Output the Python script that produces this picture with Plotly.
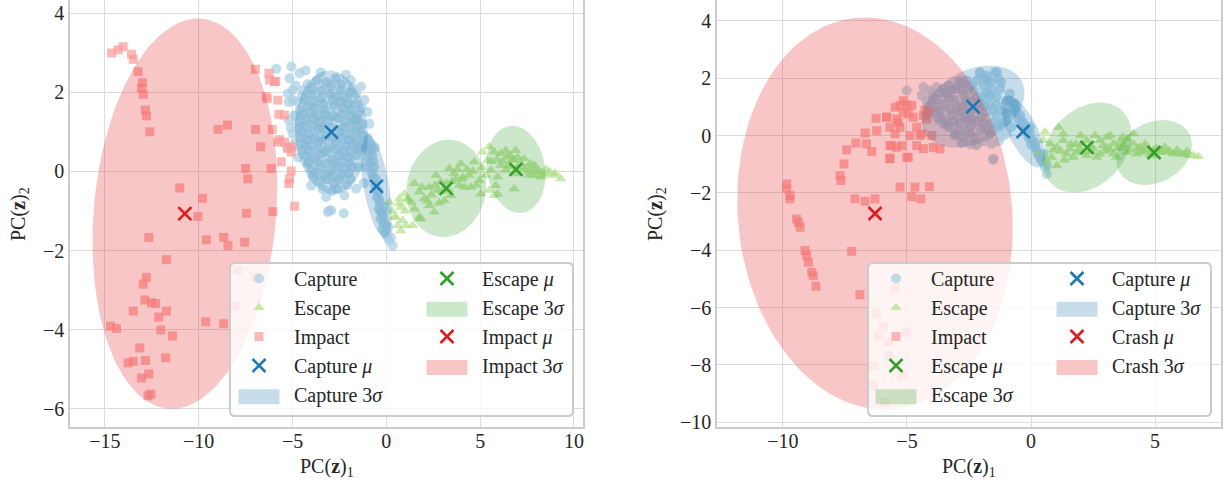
import numpy as np
import plotly.graph_objects as go

# ---------------- data: left panel ----------------
left_capture_pts = [
    (-5.07, 2.65), (-4.63, 2.48), (-5.16, 2.35), (-4.84, 2.16), (-5.25, 1.97), (-4.98, 1.80), (-4.89, 1.42),
    (-5.87, 2.59), (-4.30, 2.55), (-3.50, 2.50), (-2.15, 2.44), (-1.90, 2.30), (-1.35, 2.14), (-1.17, 1.80),
    (-1.00, 1.50), (-0.90, 1.20), (-5.10, 1.10), (-4.90, 0.70), (-4.70, 0.35), (-4.18, 0.20), (-3.92, -0.14),
    (-4.01, -0.36), (-3.21, -0.65), (-3.03, -0.99), (-3.12, -1.03), (-2.94, -0.99), (-2.27, -1.06), (-2.23, -0.61),
    (-1.61, -0.44), (-1.90, -0.20), (-1.50, 0.10), (-5.20, 1.75), (-5.00, 2.05), (-5.20, 1.30), (-5.00, 0.95),
    (-5.30, 0.60),
    (-4.20, 2.20), (-3.70, 2.30), (-3.20, 2.25), (-2.70, 2.35), (-2.40, 2.20), (-1.80, 2.10),
    (-4.50, 1.90), (-4.00, 1.95), (-3.50, 1.85), (-3.00, 1.95), (-2.60, 1.90), (-2.10, 1.85), (-1.60, 1.95), (-1.30, 1.60),
    (-4.60, 1.55), (-4.20, 1.65), (-3.80, 1.60), (-3.30, 1.55), (-2.80, 1.65), (-2.30, 1.60), (-1.90, 1.55), (-1.50, 1.45),
    (-4.70, 1.25), (-4.30, 1.30), (-3.90, 1.35), (-3.50, 1.25), (-3.10, 1.30), (-2.60, 1.35), (-2.20, 1.25), (-1.70, 1.30),
    (-1.30, 1.20),
    (-4.50, 1.00), (-4.10, 0.95), (-3.60, 1.05), (-3.20, 0.90), (-2.50, 1.00), (-2.00, 0.95), (-1.60, 1.00), (-1.20, 0.90),
    (-4.40, 0.70), (-4.00, 0.65), (-3.60, 0.75), (-3.10, 0.60), (-2.70, 0.70), (-2.20, 0.65), (-1.80, 0.70), (-1.40, 0.60),
    (-4.30, 0.40), (-3.80, 0.35), (-3.40, 0.45), (-2.90, 0.30), (-2.50, 0.40), (-2.00, 0.35), (-1.60, 0.40),
    (-4.00, 0.05), (-3.50, 0.10), (-3.00, 0.00), (-2.60, 0.10), (-2.20, 0.05), (-1.80, 0.10),
    (-3.60, -0.25), (-3.20, -0.20), (-2.80, -0.30), (-2.50, -0.20), (-2.10, -0.35),
    (-4.45, 2.05), (-3.95, 2.10), (-3.45, 2.05), (-2.95, 2.15), (-2.45, 2.05), (-1.95, 2.00),
    (-4.75, 1.75), (-4.35, 1.80), (-3.85, 1.75), (-3.35, 1.70), (-2.85, 1.80), (-2.45, 1.75), (-2.05, 1.70), (-1.65, 1.70),
    (-4.85, 1.40), (-4.45, 1.45), (-4.05, 1.50), (-3.65, 1.40), (-3.25, 1.45), (-2.85, 1.40), (-2.40, 1.45), (-1.95, 1.40),
    (-1.55, 1.30),
    (-4.65, 1.10), (-4.30, 1.15), (-3.85, 1.15), (-3.40, 1.10), (-2.90, 1.10), (-2.30, 1.10), (-1.85, 1.15), (-1.40, 1.05),
    (-4.60, 0.85), (-4.20, 0.80), (-3.80, 0.85), (-3.40, 0.80), (-2.90, 0.85), (-2.40, 0.85), (-2.00, 0.80), (-1.60, 0.80),
    (-1.20, 0.70),
    (-4.50, 0.55), (-4.10, 0.50), (-3.60, 0.55), (-3.20, 0.50), (-2.70, 0.55), (-2.30, 0.50), (-1.90, 0.50), (-1.50, 0.55),
    (-4.15, 0.25), (-3.65, 0.25), (-3.20, 0.20), (-2.75, 0.20), (-2.35, 0.25), (-1.95, 0.20),
    (-3.80, -0.05), (-3.30, -0.10), (-2.85, -0.10), (-2.35, -0.10), (-2.00, -0.05),
    (-3.40, -0.45), (-2.90, -0.50), (-2.60, -0.45),
    (-1.00, 0.85), (-0.85, 0.70), (-0.95, 0.50), (-0.75, 0.40), (-0.85, 0.20), (-0.65, 0.10), (-0.75, -0.05),
    (-0.55, -0.20), (-0.60, -0.35), (-0.45, -0.50), (-0.50, -0.65), (-0.35, -0.80), (-0.40, -0.95), (-0.25, -1.05),
    (-0.30, -1.20), (-0.15, -1.30), (-0.20, -1.45), (-0.05, -1.55), (0.05, -1.65), (0.15, -1.75), (0.34, -1.88),
    (0.10, -1.40), (-0.10, -0.90), (-0.60, 0.60), (-1.10, 0.10), (-1.20, -0.30), (0.25, -1.67),
    (-0.90, 0.30), (-0.70, -0.15), (-0.55, -0.45), (-0.40, -0.70), (-0.30, -1.00), (-0.15, -1.15), (-0.05, -1.35),
    (0.05, -1.50), (-0.80, 0.55), (-1.00, 0.65), (-0.70, 0.25),
]
left_escape_pts = [
    (0.16, -0.78), (0.69, -0.69), (0.78, -0.91), (1.13, -0.69), (1.31, -0.78), (0.51, -1.16), (0.87, -1.24),
    (0.60, -1.37), (1.04, -1.37), (1.40, -1.37), (1.76, -1.16), (0.43, -1.16), (0.78, -1.50), (1.76, -1.20),
    (0.69, -0.82), (0.96, -0.57),
    (1.49, -0.31), (1.76, -0.52), (2.02, -0.69), (2.29, -0.40), (2.64, -0.10), (2.73, -0.48), (3.09, -0.74),
    (3.44, -0.61), (3.35, 0.07), (3.71, -0.19), (3.97, 0.19), (4.15, -0.40), (4.41, -0.10), (4.68, 0.24),
    (4.95, -0.23), (5.12, 0.49), (5.03, -0.57), (2.55, -1.03), (1.84, -1.20), (2.29, -0.86), (1.13, -0.72),
    (2.90, -0.27), (3.88, -0.36), (4.50, -0.40), (5.48, -0.48), (5.74, -0.61), (5.83, -0.36),
    (5.39, 0.28), (5.74, 0.49), (6.10, 0.45), (6.45, 0.36), (6.81, 0.28), (7.16, 0.19), (7.52, 0.11),
    (7.87, 0.03), (8.23, -0.02), (8.58, -0.06), (8.94, -0.10), (9.29, -0.19), (6.36, 0.03), (6.98, -0.06),
    (7.61, -0.10), (8.23, -0.14), (5.93, -0.14), (5.57, 0.03), (6.10, 0.15), (6.63, 0.11), (7.34, 0.32),
    (5.93, -0.57), (6.81, -0.44), (5.48, 0.62), (6.36, 0.53), (6.89, 0.53), (7.87, -0.10),
    (3.20, -0.30), (3.60, -0.05), (4.00, -0.20), (4.30, 0.05), (2.40, -0.60), (3.00, -0.50), (5.30, -0.10),
    (7.00, 0.35), (7.70, 0.20), (6.60, 0.40), (8.50, 0.05), (9.00, -0.05),
    (1.90, -0.40), (2.20, -0.75), (2.60, -0.35), (2.80, -0.80), (3.30, -0.45), (3.50, -0.25), (3.80, 0.05),
    (4.10, -0.15), (4.60, 0.00), (4.80, -0.35), (5.10, 0.10), (5.60, 0.25), (5.90, 0.30), (6.20, 0.25),
    (6.50, 0.15), (6.70, 0.30), (7.00, 0.10), (7.30, 0.05), (7.60, 0.00), (7.90, 0.15), (8.10, 0.00),
    (8.40, -0.10), (8.70, 0.00), (1.00, -1.00), (1.50, -0.95), (0.30, -1.00),
]
left_impact_pts = [
    (-14.64, 2.99), (-14.29, 3.07), (-14.03, 3.15), (-13.58, 2.96), (-13.49, 2.83), (-13.23, 2.52), (-13.00, 2.24),
    (-13.05, 2.10), (-12.96, 1.95), (-12.84, 1.55), (-12.78, 1.40), (-12.61, 1.00), (-8.97, 1.06), (-8.47, 1.17),
    (-6.98, 2.58), (-6.26, 2.48), (-5.90, 2.27), (-6.35, 1.84), (-5.78, 1.80), (-5.73, 1.44), (-6.97, 1.06),
    (-6.08, 1.06), (-6.70, 0.62), (-5.69, 0.80), (-5.43, 0.74), (-5.02, 0.62), (-7.50, 0.07), (-7.38, -0.19),
    (-6.14, 0.07), (-5.60, 0.24), (-5.07, 0.01), (-5.16, -0.19), (-5.20, -0.31), (-11.01, -0.42), (-9.80, -0.68),
    (-10.04, -1.14), (-7.46, -1.06), (-6.05, -1.02), (-4.89, -0.88), (-12.66, -1.67), (-9.59, -1.73), (-8.67, -1.67),
    (-8.44, -1.88), (-7.55, -1.79),
    (-11.72, -2.23), (-12.79, -2.68), (-12.96, -2.85), (-12.87, -3.25), (-12.52, -3.32), (-12.30, -3.34),
    (-13.49, -3.53), (-11.72, -3.53), (-12.13, -3.68), (-14.70, -3.91), (-14.38, -3.97), (-12.02, -4.01),
    (-11.40, -4.16), (-9.63, -3.80), (-8.67, -3.85), (-13.14, -4.46), (-13.76, -4.84), (-13.49, -4.80),
    (-12.84, -4.78), (-11.76, -4.71), (-13.05, -5.22), (-12.66, -5.12), (-12.70, -5.67), (-12.55, -5.63),
    (-7.94, -2.50), (-6.97, -2.68), (-8.08, -3.40),
    (-6.22, 2.31), (-5.96, 2.27), (-6.40, 1.89), (-5.43, 1.42), (-5.78, 0.74), (-5.25, 0.58), (-5.07, 0.49),
]
left_capture_mu = [(-2.93, 0.99), (-0.53, -0.38)]
left_capture_cov = [(0.419, -0.02, 0.27), (0.075, -0.065, 0.19)]   # (var_x, cov_xy, var_y)
left_escape_mu = [(3.19, -0.43), (6.91, 0.05)]
left_escape_cov = [(0.503, 0.02, 0.168), (0.274, -0.025, 0.135)]
left_impact_mu = [(-10.74, -1.07)]
left_impact_cov = [(2.69, 0.383, 2.70)]

# ---------------- data: right panel ----------------
right_capture_pts = [
    (-5.01, 1.57), (-4.34, 1.69), (-4.07, 1.57), (-3.80, 1.69), (-3.54, 1.63), (-4.41, 1.40), (-4.21, 1.22),
    (-3.94, 1.34), (-3.40, 1.46), (-3.06, 1.63), (-2.79, 1.80), (-2.59, 1.92), (-2.06, 2.15), (-1.79, 2.09),
    (-1.45, 2.21), (-1.31, 1.98),
    (-4.07, 0.76), (-3.74, 0.58), (-3.40, 0.46), (-3.67, 0.87), (-3.27, 0.93), (-2.86, 0.81), (-2.59, 0.52),
    (-3.06, 0.06), (-2.73, -0.06), (-2.26, -0.06), (-2.19, -0.29), (-1.65, 0.00), (-1.52, -0.81), (-1.92, 0.46),
    (-1.79, 0.81), (-2.06, 1.16), (-1.65, 1.40), (-1.38, 1.05), (-1.18, 0.46), (-1.11, 0.00),
    (-3.06, 0.00), (-2.46, 0.06), (-2.19, -0.35), (-1.65, 0.06), (-1.58, -0.29), (-1.52, -0.85), (-2.06, 2.21),
    (-1.38, 2.21), (-1.72, 1.92), (-1.25, 1.63), (-0.85, 1.46), (-0.71, 1.11), (-0.58, 0.76), (-0.98, 0.06),
    (-1.25, -0.06),
    (-3.90, 1.00), (-3.50, 1.10), (-3.10, 1.25), (-2.70, 1.40), (-2.30, 1.55), (-1.90, 1.70), (-3.60, 0.60),
    (-3.20, 0.70), (-2.80, 1.05), (-2.40, 1.20), (-2.00, 1.35), (-1.60, 1.60), (-3.30, 0.30), (-2.90, 0.45),
    (-2.50, 0.80), (-2.10, 0.90), (-1.70, 1.10), (-2.60, 0.20), (-2.20, 0.50), (-1.40, 0.70), (-4.20, 1.00),
    (-3.80, 1.25), (-2.40, 1.75), (-2.00, 0.20), (-1.30, 0.35), (-3.20, 1.60), (-2.90, 1.90),
    (-4.00, 1.45), (-3.60, 1.50), (-3.30, 1.75), (-2.80, 1.60), (-2.50, 1.65), (-2.20, 1.90), (-1.90, 2.00),
    (-1.60, 1.85), (-1.20, 1.85), (-4.00, 1.20), (-3.30, 1.30), (-2.60, 1.20), (-2.20, 1.30), (-1.80, 1.45),
    (-1.40, 1.35), (-1.00, 1.20), (-3.80, 0.85), (-3.00, 0.95), (-2.60, 1.00), (-2.30, 0.95), (-1.90, 1.05),
    (-1.50, 0.90), (-1.10, 0.85), (-3.50, 0.40), (-3.10, 0.50), (-2.70, 0.65), (-2.40, 0.60), (-2.00, 0.65),
    (-1.60, 0.45), (-1.00, 0.50), (-2.90, 0.20), (-2.40, 0.35), (-1.80, 0.25), (-1.50, 0.20), (-2.80, -0.25),
    (-2.45, -0.30), (-1.90, -0.20), (-1.30, -0.20), (-0.80, 0.30),
    (-0.85, 1.22), (-0.58, 0.87), (-0.31, 0.41), (-0.04, 0.06), (0.16, -0.29), (0.36, -0.76), (0.56, -1.11),
    (0.63, -1.34), (-0.44, 0.70), (-0.17, 0.17), (0.09, -0.17), (0.23, -0.52), (0.43, -0.87), (-0.10, -0.06),
    (-0.65, 1.11), (-0.04, 0.29), (0.50, -0.64), (0.63, -1.05), (-1.18, 0.29), (-0.98, 0.76),
    (-0.70, 0.95), (-0.50, 0.55), (-0.25, 0.20), (0.00, -0.30), (0.30, -0.65), (0.50, -0.95), (0.15, -0.40),
    (-0.35, 0.50),
]
right_escape_pts = [
    (0.56, 0.12), (1.10, 0.29), (0.29, -0.64), (0.50, -0.17), (0.77, -0.29), (1.04, -0.41), (1.04, -1.05),
    (0.83, -0.76), (1.30, -0.17), (1.57, -0.47), (1.84, -0.58), (2.04, -0.29), (2.25, -0.17), (2.58, 0.00),
    (2.78, -0.17), (3.05, -0.06), (3.32, -0.29), (3.59, -0.41), (3.86, -0.12), (4.13, -0.29), (4.40, -0.41),
    (4.66, -0.47), (4.93, -0.52), (5.20, -0.58), (5.47, -0.58), (5.74, -0.64), (6.08, -0.64), (6.41, -0.70),
    (6.75, -0.73),
    (1.44, -0.64), (1.71, -0.76), (2.25, -0.70), (2.78, -0.64), (3.32, -0.64), (3.86, -0.58), (4.40, -0.58),
    (4.93, -0.70), (3.05, -0.41), (2.51, -0.47), (1.97, -0.47), (4.13, 0.06), (4.26, -0.64), (3.45, -0.76),
    (2.65, -0.76), (0.63, -0.87), (1.20, -0.55), (2.40, -0.35), (3.60, -0.20), (4.60, -0.30), (5.40, -0.40),
    (5.90, -0.50), (6.30, -0.55), (3.00, -0.55), (4.80, -0.65), (1.60, -0.30),
    (0.90, -0.50), (1.35, -0.85), (1.80, -0.30), (2.10, -0.60), (2.40, -0.55), (2.90, -0.35), (3.20, -0.50),
    (3.50, -0.45), (3.75, -0.35), (4.00, -0.50), (4.30, -0.45), (4.55, -0.55), (5.05, -0.45), (5.30, -0.50),
    (5.60, -0.55), (5.85, -0.60), (6.20, -0.65), (6.55, -0.70), (3.20, 0.00), (3.70, -0.05), (2.00, 0.00),
    (1.30, 0.05),
]
right_impact_pts = [
    (-9.85, -1.69), (-9.85, -1.86), (-9.72, -2.09), (-9.72, -2.21), (-9.45, -2.91), (-9.38, -3.03), (-9.31, -3.20),
    (-9.11, -4.01), (-9.04, -4.19), (-8.98, -4.42), (-8.84, -4.77), (-8.78, -4.89), (-8.67, -5.26),
    (-7.70, -1.40), (-7.66, -1.57), (-7.54, -0.99), (-7.43, -0.50), (-7.06, -0.26), (-6.69, 0.09), (-6.63, -0.29),
    (-6.42, -0.56), (-6.25, 0.60), (-5.82, 0.64), (-6.22, 0.17), (-7.10, -2.21), (-6.69, -2.29), (-6.29, -2.21),
    (-7.23, -4.04), (-6.90, -5.55), (-5.69, -0.79), (-5.62, -0.35), (-5.42, -0.41), (-5.21, -0.35), (-5.48, 0.06),
    (-5.28, 0.29), (-5.35, 0.46), (-5.48, 0.99), (-5.28, 1.05), (-5.01, 1.08), (-4.81, 1.05), (-5.15, 0.81),
    (-4.95, 0.76), (-4.75, 0.64), (-4.95, -0.76), (-5.28, -1.80), (-4.68, -1.80), (-4.81, -2.13), (-4.44, -2.21),
    (-4.10, -1.78), (-4.61, 0.29), (-4.41, 0.06), (-4.61, -0.35), (-4.34, -0.46), (-3.94, -0.41), (-4.21, 0.58),
    (-4.27, 0.87), (-5.15, 1.22), (-5.82, 0.64), (-5.42, 0.58), (-4.34, 0.70), (-4.14, 0.87), (-5.69, 0.29),
    (-4.00, 0.00), (-4.48, 0.00), (-4.88, 0.00), (-5.69, -0.35), (-3.67, -0.47), (-5.69, -0.81), (-5.01, -0.76),
    (-5.48, -5.35), (-6.22, -6.22), (-5.96, -6.67), (-6.16, -6.98), (-5.75, -7.21), (-5.01, -6.87),
    (-5.75, -7.68), (-6.36, -8.03), (-5.21, -8.38), (-6.36, -8.73), (-5.89, -9.31),
]
right_escape_mu = [(2.26, -0.42), (4.96, -0.59)]
right_escape_cov = [(0.357, 0.091, 0.274), (0.26, 0.045, 0.143)]
right_capture_mu = [(-2.34, 1.01), (-0.32, 0.14)]
right_capture_cov = [(0.48, 0.11, 0.228), (0.0875, -0.085, 0.176)]
right_crash_mu = [(-6.29, -2.72)]
right_crash_cov = [(3.43, -0.30, 5.2)]

left_xticks = [-15, -10, -5, 0, 5, 10]
left_yticks = [-6, -4, -2, 0, 2, 4]
right_xticks = [-10, -5, 0, 5]
right_yticks = [-10, -8, -6, -4, -2, 0, 2, 4]

# ---------------- style ----------------
FONT = "Liberation Serif"
TXT = "#262626"
CAP_L, CAP_D = "#a6cee3", "#1f78b4"
ESC_L, ESC_D = "#b2df8a", "#33a02c"
IMP_L, IMP_D = "#fb9a99", "#e31a1c"

W, H = 1228, 490


def px_x(p):
    return p / W


def px_y(p):
    return 1 - p / H


def rgba(hexc, a):
    h = hexc.lstrip("#")
    return "rgba(%d,%d,%d,%s)" % (int(h[0:2], 16), int(h[2:4], 16), int(h[4:6], 16), a)


def ellipse(mu, cov, nstd=3.0, n=160):
    c = np.array([[cov[0], cov[1]], [cov[1], cov[2]]])
    vals, vecs = np.linalg.eigh(c)
    t = np.linspace(0, 2 * np.pi, n)
    circ = np.vstack([np.cos(t), np.sin(t)])
    pts = vecs @ (np.sqrt(vals)[:, None] * circ) * nstd
    return pts[0] + mu[0], pts[1] + mu[1]


fig = go.Figure()
patches = []   # legend patches for the 3-sigma entries: (legend name, row, color)


def scatter_pts(pts, name, symbol, size, color, xa, ya, leg, rank):
    fig.add_trace(go.Scatter(
        x=[p[0] for p in pts], y=[p[1] for p in pts], mode="markers", name=name,
        xaxis=xa, yaxis=ya, legend=leg, legendrank=rank,
        marker=dict(symbol=symbol, size=size, color=color, opacity=0.7, line=dict(width=0)),
        hoverinfo="skip"))


def ellipses(mus, covs, name, color, xa, ya, leg, rank):
    for m, c in zip(mus, covs):
        ex, ey = ellipse(m, c)
        fig.add_trace(go.Scatter(
            x=ex, y=ey, mode="lines", fill="toself", fillcolor=rgba(color, 0.25),
            line=dict(width=0, color=rgba(color, 0.25)), name=name, xaxis=xa, yaxis=ya,
            showlegend=False, hoverinfo="skip"))
    # legend entry (the patch itself is drawn as a layout shape)
    fig.add_trace(go.Scatter(
        x=[None], y=[None], mode="markers", name=name, xaxis=xa, yaxis=ya,
        legend=leg, legendrank=rank,
        marker=dict(size=1, color="rgba(0,0,0,0)", opacity=0, line=dict(width=0, color="rgba(0,0,0,0)")),
        hoverinfo="skip"))
    patches.append((leg, rank, color))


def means(mus, name, color, xa, ya, leg, rank):
    fig.add_trace(go.Scatter(
        x=[m[0] for m in mus], y=[m[1] for m in mus], mode="markers", name=name,
        xaxis=xa, yaxis=ya, legend=leg, legendrank=rank,
        marker=dict(symbol="x-thin-open", size=13, color=color, line=dict(width=2.6, color=color)),
        hoverinfo="skip"))


MU = "<i>\u03bc</i>"
SIG = "3<i>\u03c3</i>"

# left panel
scatter_pts(left_capture_pts, "Capture", "circle", 10, CAP_L, "x", "y", "legend", 1)
scatter_pts(left_escape_pts, "Escape", "triangle-up", 10, ESC_L, "x", "y", "legend", 2)
scatter_pts(left_impact_pts, "Impact", "square", 9, IMP_L, "x", "y", "legend", 3)
ellipses(left_capture_mu, left_capture_cov, "Capture " + SIG, CAP_D, "x", "y", "legend", 5)
ellipses(left_escape_mu, left_escape_cov, "Escape " + SIG, ESC_D, "x", "y", "legend2", 2)
ellipses(left_impact_mu, left_impact_cov, "Impact " + SIG, IMP_D, "x", "y", "legend2", 4)
means(left_capture_mu, "Capture " + MU, CAP_D, "x", "y", "legend", 4)
means(left_escape_mu, "Escape " + MU, ESC_D, "x", "y", "legend2", 1)
means(left_impact_mu, "Impact " + MU, IMP_D, "x", "y", "legend2", 3)

# right panel
scatter_pts(right_capture_pts, "Capture", "circle", 10, CAP_L, "x2", "y2", "legend3", 1)
scatter_pts(right_escape_pts, "Escape", "triangle-up", 10, ESC_L, "x2", "y2", "legend3", 2)
scatter_pts(right_impact_pts, "Impact", "square", 9, IMP_L, "x2", "y2", "legend3", 3)
ellipses(right_escape_mu, right_escape_cov, "Escape " + SIG, ESC_D, "x2", "y2", "legend3", 5)
ellipses(right_capture_mu, right_capture_cov, "Capture " + SIG, CAP_D, "x2", "y2", "legend4", 2)
ellipses(right_crash_mu, right_crash_cov, "Crash " + SIG, IMP_D, "x2", "y2", "legend4", 4)
means(right_escape_mu, "Escape " + MU, ESC_D, "x2", "y2", "legend3", 4)
means(right_capture_mu, "Capture " + MU, CAP_D, "x2", "y2", "legend4", 1)
means(right_crash_mu, "Crash " + MU, IMP_D, "x2", "y2", "legend4", 3)

axis_common = dict(
    showgrid=True, gridcolor="#dcdcdc", gridwidth=1, zeroline=False,
    showline=True, linecolor="#cccccc", linewidth=1.5,
    ticks="", tickfont=dict(family=FONT, size=20, color=TXT), automargin=False,
)

fig.update_layout(
    width=W, height=H, margin=dict(l=0, r=0, t=0, b=0),
    paper_bgcolor="white", plot_bgcolor="white", template="none",
    font=dict(family=FONT, size=20, color=TXT),
    xaxis=dict(domain=[px_x(70), px_x(583)], range=[-16.86, 10.48], tickvals=left_xticks, anchor="y",
               mirror=False, ticklabelstandoff=-5, **axis_common),
    yaxis=dict(domain=[px_y(427), 1], range=[-6.46, 4.33], tickvals=left_yticks, anchor="x",
               mirror=True, **axis_common),
    xaxis2=dict(domain=[px_x(717), px_x(1221)], range=[-12.66, 7.66], tickvals=right_xticks, anchor="y2",
                mirror=False, ticklabelstandoff=-5, **axis_common),
    yaxis2=dict(domain=[px_y(427), 1], range=[-10.17, 4.73], tickvals=right_yticks, anchor="x2",
                mirror=True, **axis_common),
)

LEG_Y = 259
legend_x = {"legend": 224, "legend2": 412, "legend3": 861, "legend4": 1042}
leg_common = dict(bgcolor="rgba(0,0,0,0)", borderwidth=0, orientation="v", itemwidth=60,
                  font=dict(family=FONT, size=20, color=TXT), xanchor="left", yanchor="top",
                  itemclick=False, itemdoubleclick=False)
fig.update_layout(**{k: dict(x=px_x(v), y=px_y(LEG_Y), **leg_common) for k, v in legend_x.items()})


def rounded_box(x0, y0, x1, y1, r=5):
    rx, ry = r / W, r / H
    X0, X1 = px_x(x0), px_x(x1)
    Y0, Y1 = px_y(y0), px_y(y1)
    return (f"M{X0+rx},{Y0} L{X1-rx},{Y0} Q{X1},{Y0} {X1},{Y0-ry} L{X1},{Y1+ry} Q{X1},{Y1} {X1-rx},{Y1} "
            f"L{X0+rx},{Y1} Q{X0},{Y1} {X0},{Y1+ry} L{X0},{Y0-ry} Q{X0},{Y0} {X0+rx},{Y0} Z")


for (x0, x1) in [(230, 573), (868, 1211)]:
    fig.add_shape(type="path", path=rounded_box(x0, 263, x1, 416), xref="paper", yref="paper",
                  fillcolor="rgba(255,255,255,0.8)", line=dict(color="#cccccc", width=2), layer="above")

# legend patches for the 3-sigma ellipses
ROW0, ROWH = 280, 29.2
for leg, rank, color in patches:
    sx = legend_x[leg] + 35
    cy = ROW0 + (rank - 1) * ROWH
    fig.add_shape(type="rect", xref="paper", yref="paper",
                  x0=px_x(sx - 20.5), x1=px_x(sx + 20.5), y0=px_y(cy + 7.5), y1=px_y(cy - 7.5),
                  fillcolor=rgba(color, 0.25), line=dict(width=0), layer="above")

# axis titles
for cx in [(70 + 583) / 2, (717 + 1221) / 2]:
    fig.add_annotation(x=px_x(cx), y=px_y(467), xref="paper", yref="paper", showarrow=False,
                       text="PC(<b>z</b>)<sub>1</sub>", font=dict(family=FONT, size=20, color=TXT),
                       xanchor="center", yanchor="middle")
for cx in [19, 656]:
    fig.add_annotation(x=px_x(cx), y=px_y(214), xref="paper", yref="paper", showarrow=False,
                       text="PC(<b>z</b>)<sub>2</sub>", textangle=-90, font=dict(family=FONT, size=20, color=TXT),
                       xanchor="center", yanchor="middle")

# the page body normally has an 8px margin; remove it so the figure fills the window exactly
fig.write_html("out.html", config={"displayModeBar": False},
               post_script="document.body.style.margin='0px';")
